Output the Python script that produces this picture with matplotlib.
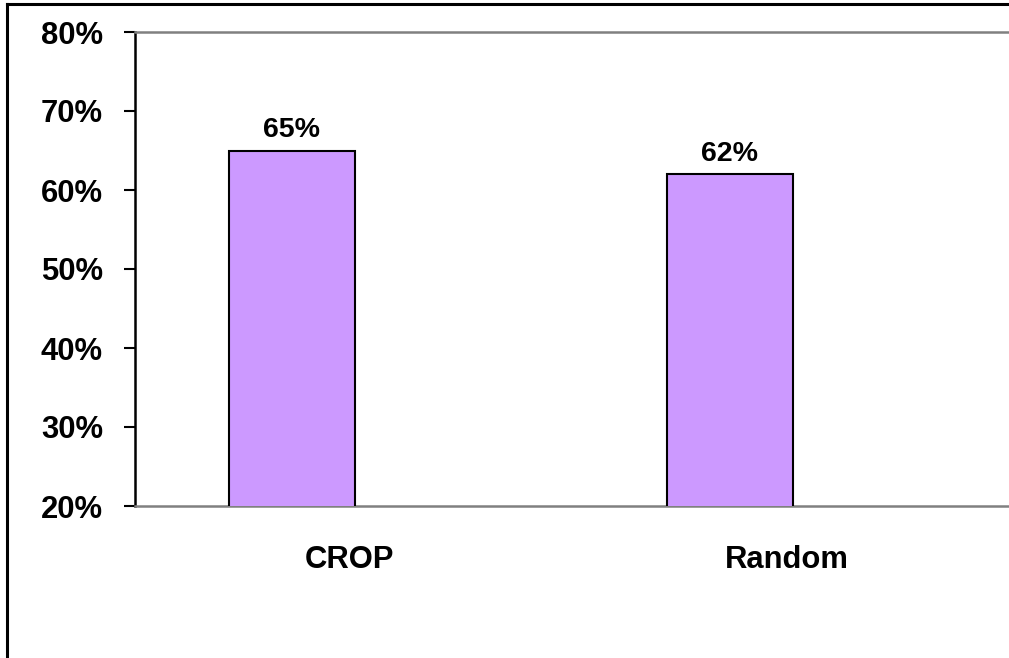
import matplotlib.pyplot as plt
import matplotlib.transforms as mtransforms
from matplotlib.lines import Line2D
from matplotlib.ticker import FuncFormatter

plt.rcParams['font.family'] = ['Liberation Sans', 'DejaVu Sans']
plt.rcParams['font.weight'] = 'bold'

categories = ['CROP', 'Random']
values = [65, 62]
y_ticks = [20, 30, 40, 50, 60, 70, 80]

fig = plt.figure(figsize=(10.09, 6.58), dpi=100)
ax = fig.add_axes([135 / 1009, 1 - 506 / 658, 1 - 135 / 1009, (506 - 32) / 658])

x = range(len(categories))
ax.bar(x, values, width=0.288, color='#CC99FF', edgecolor='black', linewidth=1.5, zorder=3)

# value labels on top of the bars
for xi, v in zip(x, values):
    ax.text(xi, v + 0.9, f'{v}%', ha='center', va='bottom', fontsize=20.5, fontweight='bold')

ax.set_ylim(20, 80)
ax.set_xlim(-0.3584, 1.637)
ax.set_yticks(y_ticks)
ax.yaxis.set_major_formatter(FuncFormatter(lambda v, p: f'{v:.0f}%'))
ax.set_xticks(list(x))
ax.set_xticklabels(categories)

ax.tick_params(axis='y', direction='out', length=8, width=1.5, pad=15, labelsize=22.3)
ax.tick_params(axis='x', length=0, pad=28, labelsize=22.3)

# category labels sit a bit to the right of the bar centres
shift = mtransforms.ScaledTranslation(0.57, 0, fig.dpi_scale_trans)
for lbl in ax.get_xticklabels():
    lbl.set_transform(lbl.get_transform() + shift)

for side in ['top', 'bottom']:
    ax.spines[side].set_color('#808080')
    ax.spines[side].set_linewidth(1.8)
ax.spines['left'].set_color('black')
ax.spines['left'].set_linewidth(1.8)
ax.spines['right'].set_visible(False)

# outer frame of the chart area (left and top edges)
fig.add_artist(Line2D([7 / 1009, 7 / 1009], [0, 1 - 4 / 658], color='black', linewidth=2.2,
                      transform=fig.transFigure))
fig.add_artist(Line2D([7 / 1009, 1], [1 - 4 / 658, 1 - 4 / 658], color='black', linewidth=2.2,
                      transform=fig.transFigure))

fig.savefig('out.png', dpi=100)
